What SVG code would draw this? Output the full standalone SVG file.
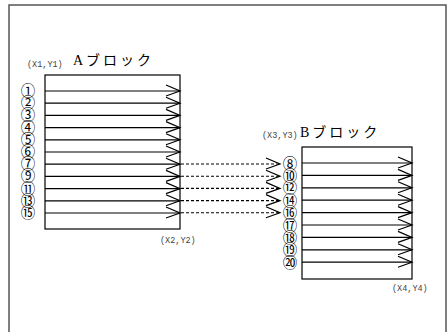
<svg xmlns="http://www.w3.org/2000/svg" width="448" height="332" viewBox="0 0 448 332">
<defs>
<style>
.frame{fill:none;stroke:#555;stroke-width:1.5}
.blk{fill:#fff;stroke:#000;stroke-width:1.2}
.ln{stroke:#000;stroke-width:1.2;fill:none}
.dash{stroke:#000;stroke-width:1.1;stroke-dasharray:3 2;fill:none}
.co{font-family:"Liberation Mono",monospace;font-size:8.5px;fill:#444}
.ttl{font-family:"Liberation Serif","Noto Sans CJK JP",serif;font-size:14px;letter-spacing:3px;fill:#000}
.num{font-family:"Noto Sans CJK JP",sans-serif;font-size:14.5px;fill:#000;text-anchor:middle;dominant-baseline:central}
</style>
<path id="chev" d="M-14,-6 L0,0 L-14,5" fill="none" stroke="#000" stroke-width="1.2"/>
</defs>
<rect class="frame" x="9" y="5" width="437" height="340"/>
<g id="blockA">
<rect class="blk" x="45" y="75" width="135" height="154"/>
<text class="co" x="27" y="67">(X1,Y1)</text>
<text class="ttl" x="73" y="65">Aブロック</text>
<text class="co" x="160" y="243">(X2,Y2)</text>
</g>
<g id="blockB">
<rect class="blk" x="302" y="147" width="110" height="132"/>
<text class="co" x="262" y="138">(X3,Y3)</text>
<text class="ttl" x="300" y="137">Bブロック</text>
<text class="co" x="392" y="291">(X4,Y4)</text>
</g>
<g id="connectors">
<g id="a-lines">
<line class="ln" x1="45" y1="91" x2="180" y2="91"/><use href="#chev" x="180" y="91"/>
<line class="ln" x1="45" y1="103.2" x2="180" y2="103.2"/><use href="#chev" x="180" y="103.2"/>
<line class="ln" x1="45" y1="115.4" x2="180" y2="115.4"/><use href="#chev" x="180" y="115.4"/>
<line class="ln" x1="45" y1="127.6" x2="180" y2="127.6"/><use href="#chev" x="180" y="127.6"/>
<line class="ln" x1="45" y1="139.8" x2="180" y2="139.8"/><use href="#chev" x="180" y="139.8"/>
<line class="ln" x1="45" y1="152" x2="180" y2="152"/><use href="#chev" x="180" y="152"/>
<line class="ln" x1="45" y1="164.2" x2="180" y2="164.2"/><use href="#chev" x="180" y="164.2"/>
<line class="ln" x1="45" y1="176.4" x2="180" y2="176.4"/><use href="#chev" x="180" y="176.4"/>
<line class="ln" x1="45" y1="188.6" x2="180" y2="188.6"/><use href="#chev" x="180" y="188.6"/>
<line class="ln" x1="45" y1="200.8" x2="180" y2="200.8"/><use href="#chev" x="180" y="200.8"/>
<line class="ln" x1="45" y1="213" x2="180" y2="213"/><use href="#chev" x="180" y="213"/>
</g>
<g id="dashed">
<line class="dash" x1="181" y1="164" x2="280" y2="164"/><use href="#chev" x="280" y="164"/>
<line class="dash" x1="181" y1="176.2" x2="280" y2="176.2"/><use href="#chev" x="280" y="176.2"/>
<line class="dash" x1="181" y1="188.4" x2="280" y2="188.4"/><use href="#chev" x="280" y="188.4"/>
<line class="dash" x1="181" y1="200.6" x2="280" y2="200.6"/><use href="#chev" x="280" y="200.6"/>
<line class="dash" x1="181" y1="212.8" x2="280" y2="212.8"/><use href="#chev" x="280" y="212.8"/>
</g>
<g id="b-lines">
<line class="ln" x1="302" y1="163" x2="412" y2="163"/><use href="#chev" x="412" y="163"/>
<line class="ln" x1="302" y1="175.4" x2="412" y2="175.4"/><use href="#chev" x="412" y="175.4"/>
<line class="ln" x1="302" y1="187.8" x2="412" y2="187.8"/><use href="#chev" x="412" y="187.8"/>
<line class="ln" x1="302" y1="200.2" x2="412" y2="200.2"/><use href="#chev" x="412" y="200.2"/>
<line class="ln" x1="302" y1="212.6" x2="412" y2="212.6"/><use href="#chev" x="412" y="212.6"/>
<line class="ln" x1="302" y1="225" x2="412" y2="225"/><use href="#chev" x="412" y="225"/>
<line class="ln" x1="302" y1="237.4" x2="412" y2="237.4"/><use href="#chev" x="412" y="237.4"/>
<line class="ln" x1="302" y1="249.8" x2="412" y2="249.8"/><use href="#chev" x="412" y="249.8"/>
<line class="ln" x1="302" y1="262.2" x2="412" y2="262.2"/><use href="#chev" x="412" y="262.2"/>
</g>
</g>
<g id="labelsA">
<text class="num" x="28" y="89.5">①</text>
<text class="num" x="28" y="101.7">②</text>
<text class="num" x="28" y="113.9">③</text>
<text class="num" x="28" y="126.1">④</text>
<text class="num" x="28" y="138.3">⑤</text>
<text class="num" x="28" y="150.5">⑥</text>
<text class="num" x="28" y="162.7">⑦</text>
<text class="num" x="28" y="174.9">⑨</text>
<text class="num" x="28" y="187.1">⑪</text>
<text class="num" x="28" y="199.3">⑬</text>
<text class="num" x="28" y="211.5">⑮</text>
</g>
<g id="labelsB">
<text class="num" x="290" y="162">⑧</text>
<text class="num" x="290" y="174.4">⑩</text>
<text class="num" x="290" y="186.8">⑫</text>
<text class="num" x="290" y="199.2">⑭</text>
<text class="num" x="290" y="211.6">⑯</text>
<text class="num" x="290" y="224">⑰</text>
<text class="num" x="290" y="236.4">⑱</text>
<text class="num" x="290" y="248.8">⑲</text>
<text class="num" x="290" y="261.2">⑳</text>
</g>
</svg>
